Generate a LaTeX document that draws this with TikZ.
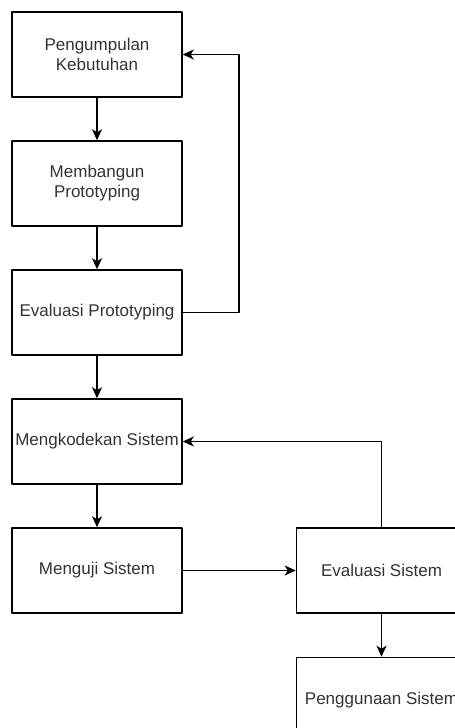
\documentclass[tikz,border=0pt]{standalone}
\usepackage{fontspec}
\setmainfont{Liberation Sans}
\usetikzlibrary{positioning,arrows.meta}
\begin{document}
\begin{tikzpicture}[x=1pt, y=1pt, line join=round,
	font=\fontsize{17}{20}\selectfont,
	node distance=42.5pt,
	kotak/.style={draw, line width=1.5pt, minimum width=170pt, minimum height=85pt,
		inner sep=0pt, align=center, text=black!80},
	panah/.style={-{Stealth[length=11pt,width=10pt,inset=3pt]}, line width=1.5pt}]
	\useasboundingbox (0,0) rectangle (455,-728);
	% alur utama
	\node[kotak] (kebutuhan) at (97,-54.5) {Pengumpulan\\Kebutuhan};
	\node[kotak, below=of kebutuhan] (bangun) {Membangun\\Prototyping};
	\node[kotak, below=of bangun] (evalproto) {Evaluasi Prototyping};
	\node[kotak, below=of evalproto] (kode) {Mengkodekan Sistem};
	\node[kotak, below=of kode] (uji) {Menguji Sistem};
	\node[kotak, right=113pt of uji] (evalsis) {Evaluasi Sistem};
	\node[kotak, below=43pt of evalsis] (guna) {Penggunaan Sistem};
	\draw[panah] (kebutuhan) -- (bangun);
	\draw[panah] (bangun) -- (evalproto);
	\draw[panah] (evalproto) -- (kode);
	\draw[panah] (kode) -- (uji);
	\draw[panah] (uji) -- (evalsis);
	\draw[panah] (evalsis) -- (guna);
	% umpan balik
	\draw[panah] (evalproto.east) -- ++(56,0) |- (kebutuhan.east);
	\draw[panah] (evalsis.north) |- (kode.east);
\end{tikzpicture}
\end{document}
